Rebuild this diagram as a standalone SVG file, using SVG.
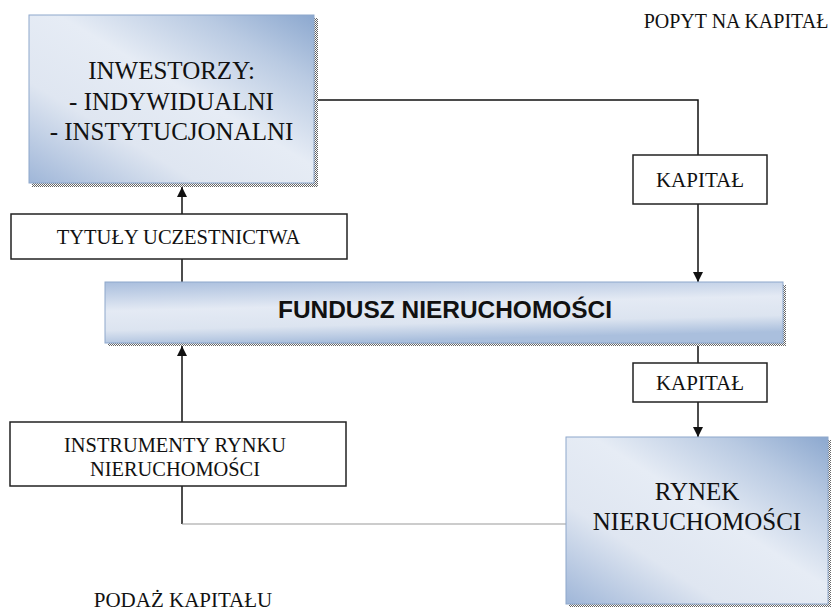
<svg xmlns="http://www.w3.org/2000/svg" width="835" height="613" viewBox="0 0 835 613">
<defs>
<style>
.box{fill:#fff;stroke:#222;stroke-width:1.5}
.blue{fill:url(#g);stroke:#8ea8cc;stroke-width:1}
.shadow{fill:url(#dots)}
.ln{fill:none;stroke:#111;stroke-width:1.5}
.thin{fill:none;stroke:#999;stroke-width:1.2}
</style>
<linearGradient id="g" x1="0" y1="1" x2="1" y2="0">
<stop offset="0" stop-color="#9fb6d8"/>
<stop offset="0.3" stop-color="#dfe6f1"/>
<stop offset="0.55" stop-color="#e6ecf5"/>
<stop offset="0.8" stop-color="#b9cae2"/>
<stop offset="1" stop-color="#8ca8cf"/>
</linearGradient>
<linearGradient id="gf" x1="0" y1="0" x2="0.25" y2="1">
<stop offset="0" stop-color="#a9bedd"/>
<stop offset="0.45" stop-color="#e4eaf4"/>
<stop offset="0.75" stop-color="#dce4f0"/>
<stop offset="1" stop-color="#aabfdd"/>
</linearGradient>
<pattern id="dots" width="2" height="2" patternUnits="userSpaceOnUse">
<rect width="2" height="2" fill="#fff"/>
<rect width="1" height="1" fill="#666"/>
<rect x="1" y="1" width="1" height="1" fill="#666"/>
</pattern>
<marker id="arr" viewBox="0 0 10 10" refX="10" refY="5" markerWidth="10" markerHeight="10" markerUnits="userSpaceOnUse" orient="auto">
<path d="M0,0 L10,5 L0,10 z" fill="#111"/>
</marker>
</defs>
<rect width="835" height="613" fill="#fff"/>

<g id="connectors">
<polyline class="ln" points="314,100 698,100 698,155"/>
<line class="ln" x1="698" y1="204" x2="698" y2="282" marker-end="url(#arr)"/>
<line class="ln" x1="698" y1="346" x2="698" y2="363"/>
<line class="ln" x1="698" y1="402" x2="698" y2="437" marker-end="url(#arr)"/>
<line class="ln" x1="182" y1="282" x2="182" y2="259"/>
<line class="ln" x1="182" y1="214" x2="182" y2="187" marker-end="url(#arr)"/>
<line class="ln" x1="182" y1="422" x2="182" y2="346" marker-end="url(#arr)"/>
<polyline class="ln" points="182,486 182,524"/>
<line class="thin" x1="182" y1="524" x2="566" y2="524"/>
</g>

<g font-family="'Times New Roman', 'Liberation Serif', 'DejaVu Serif', serif" fill="#111" text-anchor="middle">
<g id="inwestorzy">
<rect class="shadow" x="32" y="18" width="286" height="169"/>
<rect class="blue" x="29" y="15" width="285" height="168"/>
<text font-size="25" x="171.5" y="79">INWESTORZY:</text>
<text font-size="25" x="171.5" y="110">- INDYWIDUALNI</text>
<text font-size="25" x="171.5" y="140">- INSTYTUCJONALNI</text>
</g>

<g id="popyt">
<text font-size="20" x="736" y="28">POPYT NA KAPITAŁ</text>
</g>

<g id="kapital1">
<rect class="box" x="633" y="155" width="134" height="49"/>
<text font-size="21" x="700" y="187">KAPITAŁ</text>
</g>

<g id="tytuly">
<rect class="box" x="11" y="214" width="336" height="45"/>
<text font-size="20.5" x="178.5" y="244">TYTUŁY UCZESTNICTWA</text>
</g>

<g id="fundusz">
<rect class="shadow" x="108" y="285" width="678" height="61"/>
<rect x="105" y="282" width="678" height="61" fill="url(#gf)" stroke="#8ea8cc" stroke-width="1"/>
<text font-family="'Liberation Sans', Arial, sans-serif" font-weight="bold" font-size="23" x="445" y="318" textLength="334" lengthAdjust="spacingAndGlyphs">FUNDUSZ NIERUCHOMOŚCI</text>
</g>

<g id="kapital2">
<rect class="box" x="633" y="363" width="134" height="39"/>
<text font-size="21" x="700" y="390">KAPITAŁ</text>
</g>

<g id="instrumenty">
<rect class="box" x="10" y="422" width="336" height="64"/>
<text font-size="20.4" x="175" y="452">INSTRUMENTY RYNKU</text>
<text font-size="20.4" x="175" y="476">NIERUCHOMOŚCI</text>
</g>

<g id="rynek">
<rect class="shadow" x="569" y="440" width="262" height="167"/>
<rect class="blue" x="566" y="437" width="262" height="167"/>
<text font-size="25" x="697" y="500">RYNEK</text>
<text font-size="25" x="697" y="530">NIERUCHOMOŚCI</text>
</g>

<g id="podaz">
<text font-size="21" x="183" y="607">PODAŻ KAPITAŁU</text>
</g>
</g>
</svg>
